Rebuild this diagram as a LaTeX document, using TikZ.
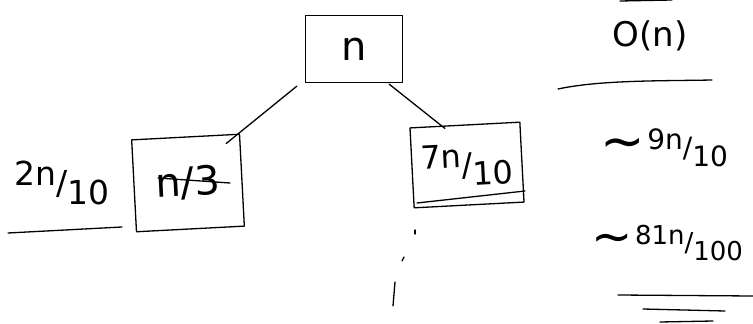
\documentclass[tikz,border=0pt]{standalone}
\usepackage{fontspec}
\setmainfont{DejaVu Sans}
\newcommand\hfr[2]{\raisebox{0.28em}{#1}/\raisebox{-0.32em}{#2}}
\newcommand\tld{\raisebox{-0.05em}{\scalebox{1.9}{∼}}\kern0.1em}
\begin{document}
\begin{tikzpicture}[x=1pt,y=-1pt,line width=1.3pt,line cap=round,line join=round,
  box/.style={draw,inner sep=0pt},
  lbl/.style={inner sep=0pt}]
\useasboundingbox (0,0) rectangle (753,324);
% tree boxes
\node[box,minimum width=97pt,minimum height=67pt,font=\fontsize{40}{40}\selectfont] (root) at (354,49) {n};
\node[box,minimum width=108pt,minimum height=92pt,rotate=3,font=\fontsize{40}{40}\selectfont] (left) at (188,183) {n/3};
\node[box,minimum width=110pt,minimum height=80pt,rotate=3,font=\fontsize{32}{32}\selectfont] (right) at (467,165) {\hfr{7n}{10}};
% connectors
\draw ([xshift=-8pt,yshift=-3pt]root.south west) -- ([xshift=-14pt,yshift=-10pt]left.north east);
\draw ([xshift=-14pt,yshift=-1pt]root.south east) -- ([xshift=-20pt,yshift=-4pt]right.north);
% strike-throughs
\draw ([xshift=-30pt,yshift=5pt]left.center) -- ([xshift=42pt]left.center);
\draw ([xshift=-50pt,yshift=-38pt]right.center) -- ([xshift=58pt,yshift=-26pt]right.center);
% left label
\node[lbl,font=\fontsize{33}{33}\selectfont] (lab) at (62,183) {\hfr{2n}{10}};
\coordinate (ul1) at (8,233);
\coordinate (ul2) at (122,227);
\draw (ul1) -- (ul2);
% dots below right box
\draw (415,230) -- (415,234);
\draw (402,261) -- (404,257);
\draw (395,282) -- (393,306);
% right column
\node[lbl,font=\fontsize{34}{34}\selectfont] (on) at (650,36) {O(n)};
\draw (620,1) -- (672,0);
\draw (558,89) .. controls (600,80) and (660,81) .. (712,80);
\node[lbl,font=\fontsize{28}{28}\selectfont] (c1) at (664,148) {\tld\hfr{9n}{10}};
\node[lbl,font=\fontsize{26}{26}\selectfont] (c2) at (667,243) {\tld\hfr{81n}{100}};
\draw (618,295) -- (753,296);
\draw (643,309) -- (725,311);
\draw (660,322) -- (713,321);
\end{tikzpicture}
\end{document}
